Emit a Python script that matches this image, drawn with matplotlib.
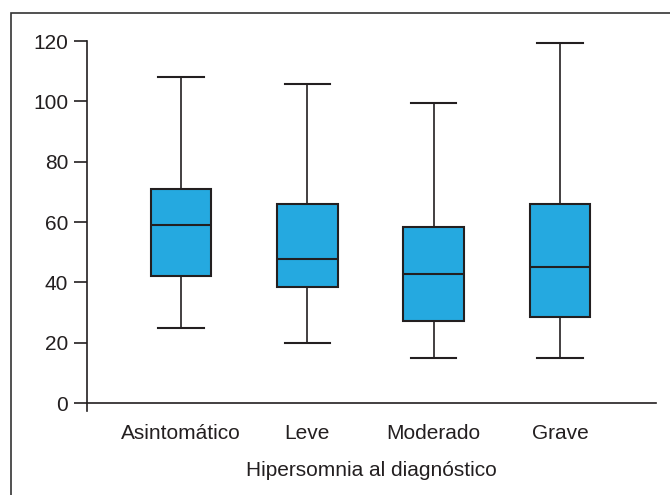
import matplotlib
matplotlib.use("Agg")
import matplotlib.pyplot as plt
from matplotlib.patches import Rectangle

plt.rcParams["font.family"] = ["Liberation Sans", "DejaVu Sans"]

# box statistics
categories = ["Asintomático", "Leve", "Moderado", "Grave"]
whisker_low = [25, 20, 15, 15]
q1 = [42, 38.5, 27.3, 28.5]
medians = [58.9, 47.6, 42.6, 45.2]
q3 = [70.8, 66, 58.3, 66]
whisker_high = [108.2, 105.7, 99.3, 119.4]

stats = []
for i, name in enumerate(categories):
    stats.append({
        "label": name,
        "whislo": whisker_low[i],
        "q1": q1[i],
        "med": medians[i],
        "q3": q3[i],
        "whishi": whisker_high[i],
        "fliers": [],
    })

edge = "#231f20"
fig = plt.figure(figsize=(6.7, 4.95), dpi=100)
ax = fig.add_axes([0.1299, 1 - 411 / 495, 0.8493, (411 - 41) / 495])

ax.bxp(
    stats,
    positions=[1, 2, 3, 4],
    widths=0.48,
    patch_artist=True,
    showfliers=False,
    boxprops=dict(facecolor="#25a9e0", edgecolor=edge, linewidth=1.5),
    medianprops=dict(color=edge, linewidth=1.5),
    whiskerprops=dict(color=edge, linewidth=1.2),
    capprops=dict(color=edge, linewidth=1.5),
    capwidths=0.36,
)

ax.set_xlim(0.256, 4.76)
ax.set_ylim(-2.65, 120)
ax.set_yticks(range(0, 121, 20))
ax.spines["top"].set_visible(False)
ax.spines["right"].set_visible(False)
ax.spines["bottom"].set_position(("data", 0))
for side in ["left", "bottom"]:
    ax.spines[side].set_color(edge)
    ax.spines[side].set_linewidth(1.2)

ax.tick_params(axis="y", length=9.5, width=1.2, color=edge, pad=4,
               labelsize=15, labelcolor=edge)
ax.tick_params(axis="x", length=0, pad=15, labelsize=15, labelcolor=edge)
ax.set_xlabel("Hipersomnia al diagnóstico", fontsize=15, color=edge, labelpad=13)

# outer frame around the figure
fig.patches.append(Rectangle((11 / 670, -0.1), 1.2, 1 - 13 / 495 + 0.1,
                             transform=fig.transFigure, fill=False,
                             edgecolor="#333333", linewidth=1.2))

fig.savefig("out.png", dpi=100)
